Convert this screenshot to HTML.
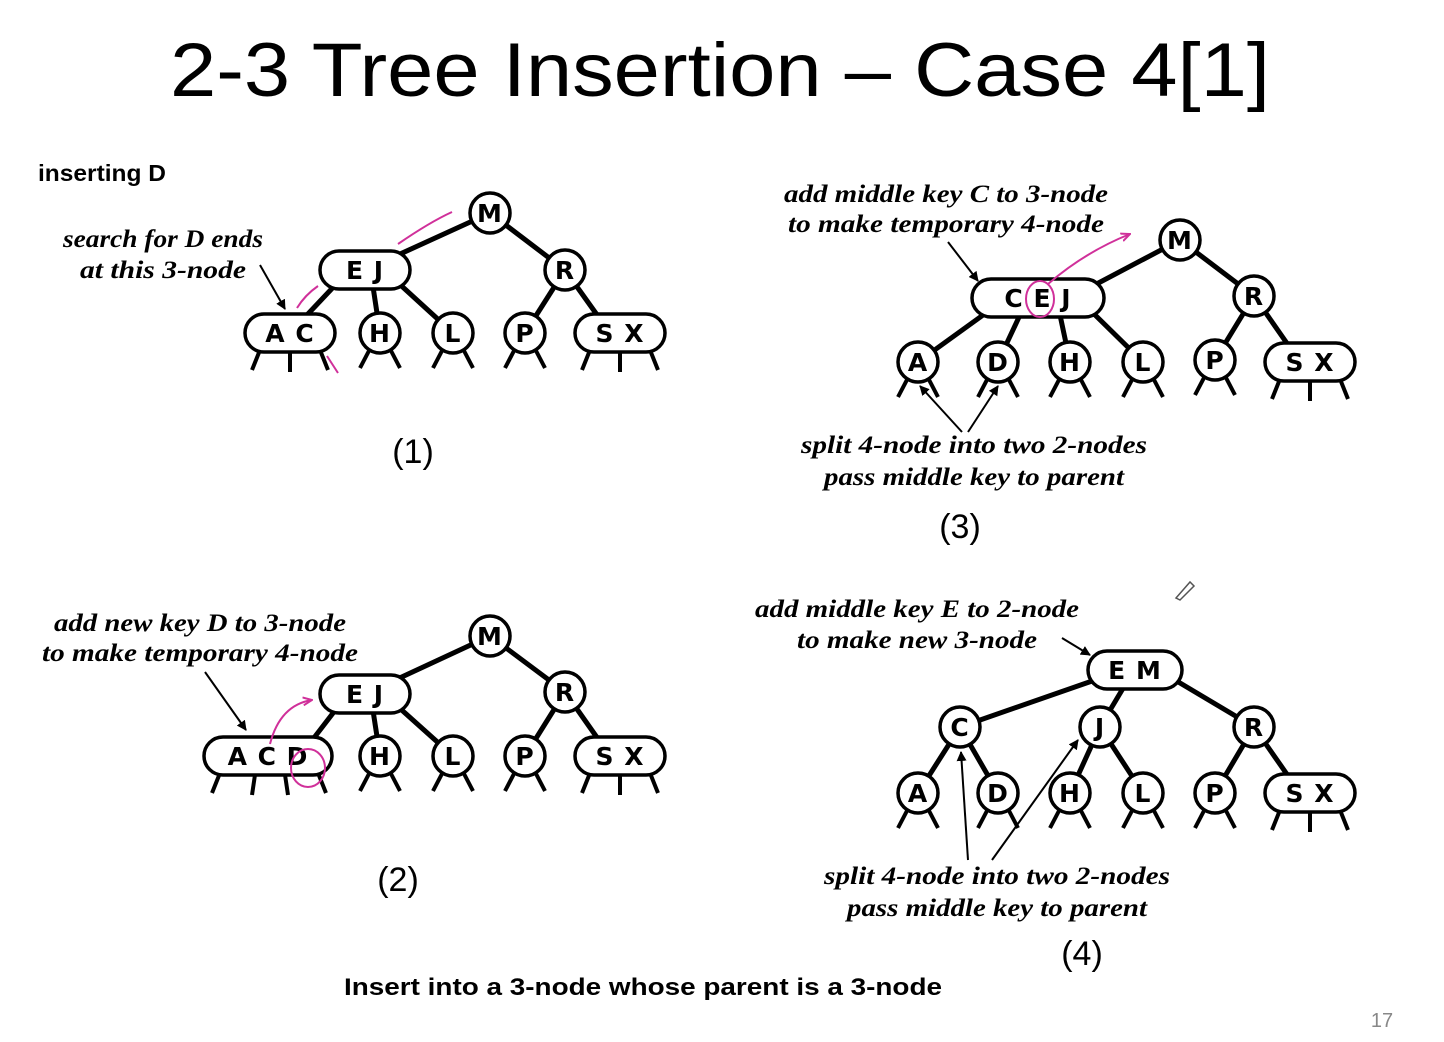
<!DOCTYPE html>
<html><head><meta charset="utf-8"><style>
html,body{margin:0;padding:0;background:#fff;}
svg{display:block;}
.n{fill:#fff;stroke:#000;stroke-width:3.5;}
.e{stroke:#000;stroke-width:5;}
.s{stroke:#000;stroke-width:4;}
.k{font-family:"DejaVu Sans","Liberation Sans",sans-serif;font-weight:bold;font-size:25px;text-anchor:middle;letter-spacing:1px;}
.c{font-family:"Liberation Serif",serif;font-style:italic;font-weight:bold;font-size:25px;text-anchor:middle;}
.p{font-family:"Liberation Sans",sans-serif;font-size:34px;text-anchor:middle;}
.a{stroke:#000;stroke-width:2;fill:none;}
.m{stroke:#d0309a;stroke-width:2;fill:none;}
</style></head><body>
<svg width="1444" height="1042" viewBox="0 0 1444 1042" xmlns="http://www.w3.org/2000/svg">
<defs><marker id="ar" markerWidth="10" markerHeight="10" refX="9" refY="5" orient="auto" markerUnits="userSpaceOnUse"><path d="M0,0 L10,5 L0,10 z" fill="#000"/></marker>
<marker id="am" markerWidth="10" markerHeight="10" refX="9" refY="5" orient="auto" markerUnits="userSpaceOnUse"><path d="M0,1 L9,5 L0,9" stroke="#d0309a" stroke-width="2" fill="none"/></marker></defs>

<text x="170" y="96" font-family="Liberation Sans,sans-serif" font-size="76" textLength="1100" lengthAdjust="spacingAndGlyphs">2-3 Tree Insertion – Case 4[1]</text>

<!-- Tree 1 -->
<g>
<line class="e" x1="490" y1="213" x2="365" y2="270"/><line class="e" x1="490" y1="213" x2="565" y2="270"/>
<line class="e" x1="340" y1="280" x2="290" y2="333"/><line class="e" x1="372" y1="280" x2="380" y2="333"/><line class="e" x1="395" y1="280" x2="453" y2="333"/>
<line class="e" x1="565" y1="270" x2="525" y2="333"/><line class="e" x1="565" y1="270" x2="610" y2="333"/>
<line class="s" x1="262" y1="345" x2="252" y2="370"/><line class="s" x1="290" y1="345" x2="290" y2="372"/><line class="s" x1="318" y1="345" x2="328" y2="370"/>
<line class="s" x1="372" y1="345" x2="360" y2="368"/><line class="s" x1="388" y1="345" x2="400" y2="368"/>
<line class="s" x1="445" y1="345" x2="433" y2="368"/><line class="s" x1="461" y1="345" x2="473" y2="368"/>
<line class="s" x1="517" y1="345" x2="505" y2="368"/><line class="s" x1="533" y1="345" x2="545" y2="368"/>
<line class="s" x1="592" y1="345" x2="582" y2="370"/><line class="s" x1="620" y1="345" x2="620" y2="372"/><line class="s" x1="648" y1="345" x2="658" y2="370"/>
<circle class="n" cx="490" cy="213" r="20"/><text class="k" x="490" y="222">M</text>
<rect class="n" x="320" y="251" width="90" height="38" rx="19"/><text class="k" x="365" y="279">E J</text>
<circle class="n" cx="565" cy="270" r="20"/><text class="k" x="565" y="279">R</text>
<rect class="n" x="245" y="314" width="90" height="38" rx="19"/><text class="k" x="290" y="342">A C</text>
<circle class="n" cx="380" cy="333" r="20"/><text class="k" x="380" y="342">H</text>
<circle class="n" cx="453" cy="333" r="20"/><text class="k" x="453" y="342">L</text>
<circle class="n" cx="525" cy="333" r="20"/><text class="k" x="525" y="342">P</text>
<rect class="n" x="575" y="314" width="90" height="38" rx="19"/><text class="k" x="620" y="342">S X</text>
<path class="m" d="M398,244 Q430,222 452,212"/><path class="m" d="M297,308 Q305,295 318,286"/><path class="m" d="M327,356 L338,373"/>
<text class="c" x="163" y="247" textLength="200" lengthAdjust="spacingAndGlyphs">search for D ends</text>
<text class="c" x="163" y="278" textLength="166" lengthAdjust="spacingAndGlyphs">at this 3-node</text>
<line class="a" x1="260" y1="265" x2="285" y2="309" marker-end="url(#ar)"/>
<text x="38" y="181" font-family="Liberation Sans,sans-serif" font-weight="bold" font-size="23" textLength="128" lengthAdjust="spacingAndGlyphs">inserting D</text>
<text class="p" x="413" y="463">(1)</text>
</g>

<!-- Tree 2 -->
<g>
<line class="e" x1="490" y1="636" x2="365" y2="694"/><line class="e" x1="490" y1="636" x2="565" y2="692"/>
<line class="e" x1="340" y1="704" x2="300" y2="756"/><line class="e" x1="372" y1="704" x2="380" y2="756"/><line class="e" x1="395" y1="704" x2="453" y2="756"/>
<line class="e" x1="565" y1="692" x2="525" y2="756"/><line class="e" x1="565" y1="692" x2="610" y2="756"/>
<line class="s" x1="222" y1="768" x2="212" y2="793"/><line class="s" x1="256" y1="768" x2="252" y2="795"/><line class="s" x1="284" y1="768" x2="288" y2="795"/><line class="s" x1="316" y1="768" x2="326" y2="793"/>
<line class="s" x1="372" y1="768" x2="360" y2="791"/><line class="s" x1="388" y1="768" x2="400" y2="791"/>
<line class="s" x1="445" y1="768" x2="433" y2="791"/><line class="s" x1="461" y1="768" x2="473" y2="791"/>
<line class="s" x1="517" y1="768" x2="505" y2="791"/><line class="s" x1="533" y1="768" x2="545" y2="791"/>
<line class="s" x1="592" y1="768" x2="582" y2="793"/><line class="s" x1="620" y1="768" x2="620" y2="795"/><line class="s" x1="648" y1="768" x2="658" y2="793"/>
<circle class="n" cx="490" cy="636" r="20"/><text class="k" x="490" y="645">M</text>
<rect class="n" x="320" y="675" width="90" height="38" rx="19"/><text class="k" x="365" y="703">E J</text>
<circle class="n" cx="565" cy="692" r="20"/><text class="k" x="565" y="701">R</text>
<rect class="n" x="204" y="737" width="128" height="38" rx="19"/><text class="k" x="268" y="765">A C D</text>
<circle class="n" cx="380" cy="756" r="20"/><text class="k" x="380" y="765">H</text>
<circle class="n" cx="453" cy="756" r="20"/><text class="k" x="453" y="765">L</text>
<circle class="n" cx="525" cy="756" r="20"/><text class="k" x="525" y="765">P</text>
<rect class="n" x="575" y="737" width="90" height="38" rx="19"/><text class="k" x="620" y="765">S X</text>
<path class="m" d="M270,744 Q280,705 312,700" marker-end="url(#am)"/><ellipse class="m" cx="308" cy="768" rx="17" ry="19"/>
<text class="c" x="200" y="631" textLength="292" lengthAdjust="spacingAndGlyphs">add new key D to 3-node</text>
<text class="c" x="200" y="661" textLength="316" lengthAdjust="spacingAndGlyphs">to make temporary 4-node</text>
<line class="a" x1="205" y1="672" x2="246" y2="730" marker-end="url(#ar)"/>
<text class="p" x="398" y="891">(2)</text>
</g>

<!-- Tree 3 -->
<g>
<line class="e" x1="1180" y1="240" x2="1070" y2="298"/><line class="e" x1="1180" y1="240" x2="1254" y2="296"/>
<line class="e" x1="990" y1="310" x2="918" y2="362"/><line class="e" x1="1020" y1="315" x2="998" y2="362"/><line class="e" x1="1060" y1="315" x2="1070" y2="362"/><line class="e" x1="1090" y1="310" x2="1143" y2="362"/>
<line class="e" x1="1254" y1="296" x2="1215" y2="360"/><line class="e" x1="1254" y1="296" x2="1300" y2="362"/>
<line class="s" x1="910" y1="374" x2="898" y2="397"/><line class="s" x1="926" y1="374" x2="938" y2="397"/>
<line class="s" x1="990" y1="374" x2="978" y2="397"/><line class="s" x1="1006" y1="374" x2="1018" y2="397"/>
<line class="s" x1="1062" y1="374" x2="1050" y2="397"/><line class="s" x1="1078" y1="374" x2="1090" y2="397"/>
<line class="s" x1="1135" y1="374" x2="1123" y2="397"/><line class="s" x1="1151" y1="374" x2="1163" y2="397"/>
<line class="s" x1="1207" y1="372" x2="1195" y2="395"/><line class="s" x1="1223" y1="372" x2="1235" y2="395"/>
<line class="s" x1="1282" y1="374" x2="1272" y2="399"/><line class="s" x1="1310" y1="374" x2="1310" y2="401"/><line class="s" x1="1338" y1="374" x2="1348" y2="399"/>
<circle class="n" cx="1180" cy="240" r="20"/><text class="k" x="1180" y="249">M</text>
<rect class="n" x="972" y="279" width="132" height="38" rx="19"/><text class="k" x="1038" y="307">C E J</text>
<circle class="n" cx="1254" cy="296" r="20"/><text class="k" x="1254" y="305">R</text>
<circle class="n" cx="918" cy="362" r="20"/><text class="k" x="918" y="371">A</text>
<circle class="n" cx="998" cy="362" r="20"/><text class="k" x="998" y="371">D</text>
<circle class="n" cx="1070" cy="362" r="20"/><text class="k" x="1070" y="371">H</text>
<circle class="n" cx="1143" cy="362" r="20"/><text class="k" x="1143" y="371">L</text>
<circle class="n" cx="1215" cy="360" r="20"/><text class="k" x="1215" y="369">P</text>
<rect class="n" x="1265" y="343" width="90" height="38" rx="19"/><text class="k" x="1310" y="371">S X</text>
<ellipse class="m" cx="1040" cy="299" rx="14" ry="18"/><path class="m" d="M1048,284 Q1085,252 1130,234" marker-end="url(#am)"/>
<text class="c" x="946" y="202" textLength="324" lengthAdjust="spacingAndGlyphs">add middle key C to 3-node</text>
<text class="c" x="946" y="232" textLength="316" lengthAdjust="spacingAndGlyphs">to make temporary 4-node</text>
<line class="a" x1="948" y1="242" x2="978" y2="281" marker-end="url(#ar)"/>
<text class="c" x="974" y="453" textLength="346" lengthAdjust="spacingAndGlyphs">split 4-node into two 2-nodes</text>
<text class="c" x="974" y="485" textLength="300" lengthAdjust="spacingAndGlyphs">pass middle key to parent</text>
<line class="a" x1="962" y1="432" x2="920" y2="386" marker-end="url(#ar)"/><line class="a" x1="968" y1="432" x2="998" y2="386" marker-end="url(#ar)"/>
<text class="p" x="960" y="538">(3)</text>
</g>

<!-- Tree 4 -->
<g>
<line class="e" x1="1095" y1="680" x2="960" y2="727"/><line class="e" x1="1125" y1="685" x2="1100" y2="727"/><line class="e" x1="1175" y1="680" x2="1254" y2="727"/>
<line class="e" x1="960" y1="727" x2="918" y2="793"/><line class="e" x1="960" y1="727" x2="998" y2="793"/>
<line class="e" x1="1100" y1="727" x2="1070" y2="793"/><line class="e" x1="1100" y1="727" x2="1143" y2="793"/>
<line class="e" x1="1254" y1="727" x2="1215" y2="793"/><line class="e" x1="1254" y1="727" x2="1300" y2="793"/>
<line class="s" x1="910" y1="805" x2="898" y2="828"/><line class="s" x1="926" y1="805" x2="938" y2="828"/>
<line class="s" x1="990" y1="805" x2="978" y2="828"/><line class="s" x1="1006" y1="805" x2="1018" y2="828"/>
<line class="s" x1="1062" y1="805" x2="1050" y2="828"/><line class="s" x1="1078" y1="805" x2="1090" y2="828"/>
<line class="s" x1="1135" y1="805" x2="1123" y2="828"/><line class="s" x1="1151" y1="805" x2="1163" y2="828"/>
<line class="s" x1="1207" y1="805" x2="1195" y2="828"/><line class="s" x1="1223" y1="805" x2="1235" y2="828"/>
<line class="s" x1="1282" y1="805" x2="1272" y2="830"/><line class="s" x1="1310" y1="805" x2="1310" y2="832"/><line class="s" x1="1338" y1="805" x2="1348" y2="830"/>
<rect class="n" x="1088" y="651" width="94" height="38" rx="19"/><text class="k" x="1135" y="679">E M</text>
<circle class="n" cx="960" cy="727" r="20"/><text class="k" x="960" y="736">C</text>
<circle class="n" cx="1100" cy="727" r="20"/><text class="k" x="1100" y="736">J</text>
<circle class="n" cx="1254" cy="727" r="20"/><text class="k" x="1254" y="736">R</text>
<circle class="n" cx="918" cy="793" r="20"/><text class="k" x="918" y="802">A</text>
<circle class="n" cx="998" cy="793" r="20"/><text class="k" x="998" y="802">D</text>
<circle class="n" cx="1070" cy="793" r="20"/><text class="k" x="1070" y="802">H</text>
<circle class="n" cx="1143" cy="793" r="20"/><text class="k" x="1143" y="802">L</text>
<circle class="n" cx="1215" cy="793" r="20"/><text class="k" x="1215" y="802">P</text>
<rect class="n" x="1265" y="774" width="90" height="38" rx="19"/><text class="k" x="1310" y="802">S X</text>
<text class="c" x="917" y="617" textLength="324" lengthAdjust="spacingAndGlyphs">add middle key E to 2-node</text>
<text class="c" x="917" y="648" textLength="240" lengthAdjust="spacingAndGlyphs">to make new 3-node</text>
<line class="a" x1="1062" y1="638" x2="1090" y2="655" marker-end="url(#ar)"/>
<text class="c" x="997" y="884" textLength="346" lengthAdjust="spacingAndGlyphs">split 4-node into two 2-nodes</text>
<text class="c" x="997" y="916" textLength="300" lengthAdjust="spacingAndGlyphs">pass middle key to parent</text>
<line class="a" x1="968" y1="860" x2="961" y2="752" marker-end="url(#ar)"/><line class="a" x1="992" y1="860" x2="1078" y2="740" marker-end="url(#ar)"/>
<text class="p" x="1082" y="965">(4)</text>
<path d="M1176,598 L1190,582 L1194,586 L1180,600 Z" fill="none" stroke="#555" stroke-width="1.5"/>
</g>

<text x="344" y="995" font-family="Liberation Sans,sans-serif" font-weight="bold" font-size="24" textLength="598" lengthAdjust="spacingAndGlyphs">Insert into a 3-node whose parent is a 3-node</text>
<text x="1382" y="1027" font-family="Liberation Sans,sans-serif" font-size="20" fill="#888" text-anchor="middle">17</text>
</svg>
</body></html>
